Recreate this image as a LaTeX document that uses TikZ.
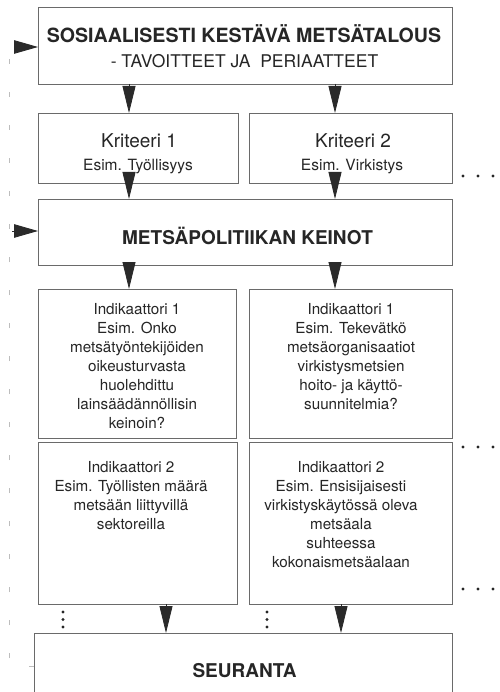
\documentclass[tikz,border=0pt]{standalone}
\usepackage{fontspec}
\setmainfont{TeX Gyre Heros}
\usetikzlibrary{arrows.meta}
\definecolor{ink}{HTML}{262626}
\definecolor{frame}{HTML}{6A6A6A}
\definecolor{wedgec}{HTML}{2A2A2A}
\definecolor{fbgray}{HTML}{BDBDBD}
\tikzset{
  box/.style={draw=frame, line width=0.9pt, inner sep=0pt, outer sep=0pt, anchor=north west},
  ttl/.style={font=\fontsize{19}{19}\selectfont\bfseries, text=ink, inner sep=0pt, anchor=base},
  sub/.style={font=\fontsize{17.5}{17.5}\selectfont, text=ink, inner sep=0pt, anchor=base},
  krit/.style={font=\fontsize{19}{19}\selectfont, text=ink, inner sep=0pt, anchor=base},
  esim/.style={font=\fontsize{15.5}{15.5}\selectfont, text=ink, inner sep=0pt, anchor=base},
  ind/.style={font=\fontsize{15.2}{19}\selectfont, text=ink, inner sep=0pt, anchor=north, align=center},
  downwedge/.style={draw=wedgec, line width=0.8pt, -{Triangle[width=13pt,length=27pt,fill=wedgec]}},
  sidewedge/.style={draw=wedgec, line width=0.8pt, -{Triangle[width=13.5pt,length=24pt,fill=wedgec]}},
  feedback/.style={draw=fbgray, line width=1pt, dash pattern=on 5pt off 28pt},
  dot/.style={fill=ink}
}
\begin{document}
\begin{tikzpicture}[x=1pt,y=-1pt]
\fill[white] (0,0) rectangle (499,692);
\clip (0,0) rectangle (499,692);

% boxes
\node[box, minimum width=414pt, minimum height=77pt]  (top)  at (38,7)   {};
\node[box, minimum width=200pt, minimum height=70pt]  (k1)   at (38,113) {};
\node[box, minimum width=203pt, minimum height=70pt]  (k2)   at (249,113) {};
\node[box, minimum width=414pt, minimum height=66pt]  (pol)  at (38,199) {};
\node[box, minimum width=198pt, minimum height=149pt] (i1L)  at (38,289) {};
\node[box, minimum width=203pt, minimum height=149pt] (i1R)  at (249,289) {};
\node[box, minimum width=199pt, minimum height=162pt] (i2L)  at (38,442) {};
\node[box, minimum width=203pt, minimum height=162pt] (i2R)  at (249,442) {};
\node[box, minimum width=418pt, minimum height=80pt]  (seur) at (34,633) {};

% texts
\node[ttl, font=\fontsize{19.6}{19.6}\selectfont\bfseries] (toptitle) at (244,43) {SOSIAALISESTI KESTÄVÄ METSÄTALOUS};
\node[sub] (topsub) at (244.5,68) {- TAVOITTEET JA\ \ PERIAATTEET};
\node[krit] (k1title) at (139,148) {Kriteeri 1};
\node[esim] (k1ex) at (138,171) {Esim. Työllisyys};
\node[krit] (k2title) at (353,148) {Kriteeri 2};
\node[esim] (k2ex) at (352,171) {Esim. Virkistys};
\node[ttl] (poltitle) at (247.5,244) {METSÄPOLITIIKAN KEINOT};
\node[ind] (i1Ltext) at (137,303) {Indikaattori 1\\Esim. Onko\\metsätyöntekijöiden\\oikeusturvasta\\huolehdittu\\lainsäädännöllisin\\keinoin?};
\node[ind] (i1Rtext) at (351,303) {Indikaattori 1\\Esim. Tekevätkö\\metsäorganisaatiot\\virkistysmetsien\\hoito- ja käyttö-\\suunnitelmia?};
\node[ind] (i2Ltext) at (131,461) {Indikaattori 2\\Esim. Työllisten määrä\\metsään liittyvillä\\sektoreilla};
\node[ind] (i2Rtext) at (341,461) {Indikaattori 2\\Esim. Ensisijaisesti\\virkistyskäytössä oleva\\metsäala\\suhteessa\\kokonaismetsäalaan};
\node[ttl] (seurtitle) at (244.5,677) {SEURANTA};

% column positions of the downward wedges
\coordinate (cL) at (129,0);
\coordinate (cR) at (335,0);
\coordinate (cL2) at (166,0);
\coordinate (cR2) at (341,0);

\draw[downwedge] (top.south -| cL) -- (k1.north -| cL);
\draw[downwedge] (top.south -| cR) -- (k2.north -| cR);
\draw[downwedge] ([yshift=9pt]k1.south -| cL) -- (pol.north -| cL);
\draw[downwedge] ([yshift=9pt]k2.south -| cR) -- (pol.north -| cR);
\draw[downwedge] (pol.south -| cL) -- (i1L.north -| cL);
\draw[downwedge] (pol.south -| cR) -- (i1R.north -| cR);
\draw[downwedge] (i2L.south -| cL2) -- (seur.north -| cL2);
\draw[downwedge] (i2R.south -| cR2) -- (seur.north -| cR2);

% feedback from monitoring back to the goals and the policy means
\coordinate (fbB) at (9,666);
\coordinate (fbT) at (9,47);
\draw[feedback] (seur.west |- fbB) -- (fbB) -- (fbT);
\coordinate (fa1) at (14,47);
\coordinate (fa2) at (12,231);
\draw[sidewedge] (fa1) -- (top.west |- fa1);
\draw[sidewedge] (fa2) -- (pol.west |- fa2);

% continuation dots
\foreach \y in {176,447,589}{
  \foreach \x in {463,478,493}{
    \fill[dot] (\x,\y) circle (1.6pt);
  }
}
\foreach \x in {63,267}{
  \foreach \y in {612,619.5,627}{
    \fill[dot] (\x,\y) circle (1.6pt);
  }
}
\end{tikzpicture}
\end{document}
